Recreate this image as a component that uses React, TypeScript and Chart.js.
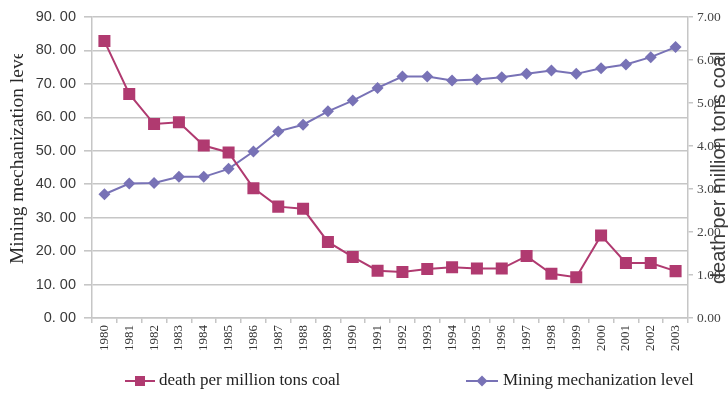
import React, { useEffect, useRef } from "react";
import { Chart, registerables } from "chart.js";

Chart.register(...registerables);

const years = [
  "1980", "1981", "1982", "1983", "1984", "1985", "1986", "1987",
  "1988", "1989", "1990", "1991", "1992", "1993", "1994", "1995",
  "1996", "1997", "1998", "1999", "2000", "2001", "2002", "2003",
];

// deaths per million tons of coal (right axis)
const deathRate = [
  6.44, 5.21, 4.51, 4.55, 4.01, 3.85, 3.02, 2.59, 2.54, 1.77, 1.42, 1.1,
  1.07, 1.14, 1.18, 1.15, 1.15, 1.44, 1.03, 0.95, 1.92, 1.28, 1.28, 1.09,
];

// mining mechanization level, % (left axis)
const mechanization = [
  37.0, 40.2, 40.4, 42.2, 42.2, 44.6, 49.8, 55.8, 57.8, 61.8, 65.0, 68.8,
  72.2, 72.2, 71.0, 71.3, 72.0, 73.0, 74.0, 73.0, 74.7, 75.8, 78.0, 81.0,
];

const leftTicks = { min: 0, max: 90, step: 10 };
const rightTicks = { min: 0, max: 7, step: 1 };

const deathLabel = "death per million tons coal";
const mechLabel = "Mining mechanization level";

const DEATH_COLOR = "rgb(176, 58, 112)";
const MECH_COLOR = "rgb(120, 114, 182)";
const GRID_COLOR = "#c6c6c6";

const decorPlugin = {
  id: "decor",
  afterDraw(chart: any) {
    const ctx = chart.ctx as CanvasRenderingContext2D;
    const area = chart.chartArea;

    // left axis title (cut off at the top of its box)
    ctx.save();
    ctx.beginPath();
    ctx.rect(0, 54, 60, 342);
    ctx.clip();
    ctx.translate(18, 264);
    ctx.rotate(-Math.PI / 2);
    ctx.font = "19.5px 'Liberation Serif'";
    ctx.fillStyle = "#2a2a2a";
    ctx.textAlign = "left";
    ctx.textBaseline = "middle";
    ctx.fillText(mechLabel, 0, 0);
    ctx.restore();

    // right axis title (cut off at the top of its box)
    ctx.save();
    ctx.beginPath();
    ctx.rect(area.right, 52, 60, 344);
    ctx.clip();
    ctx.translate(719, 284);
    ctx.rotate(-Math.PI / 2);
    ctx.font = "20px 'Liberation Sans'";
    ctx.fillStyle = "#3a3a3a";
    ctx.textAlign = "left";
    ctx.textBaseline = "middle";
    ctx.fillText(deathLabel, 0, 0);
    ctx.restore();

    // legend
    const ly = 381;
    ctx.save();
    ctx.lineWidth = 2;
    ctx.strokeStyle = DEATH_COLOR;
    ctx.beginPath();
    ctx.moveTo(125, ly);
    ctx.lineTo(155, ly);
    ctx.stroke();
    ctx.fillStyle = DEATH_COLOR;
    ctx.fillRect(140 - 5, ly - 5, 10, 10);

    ctx.strokeStyle = MECH_COLOR;
    ctx.beginPath();
    ctx.moveTo(466, ly);
    ctx.lineTo(498, ly);
    ctx.stroke();
    ctx.fillStyle = MECH_COLOR;
    ctx.beginPath();
    ctx.moveTo(482, ly - 5.5);
    ctx.lineTo(487.5, ly);
    ctx.lineTo(482, ly + 5.5);
    ctx.lineTo(476.5, ly);
    ctx.closePath();
    ctx.fill();

    ctx.font = "17px 'Liberation Serif'";
    ctx.fillStyle = "#222";
    ctx.textAlign = "left";
    ctx.textBaseline = "middle";
    ctx.fillText(deathLabel, 159, ly);
    ctx.fillText(mechLabel, 503, ly);
    ctx.restore();
  },
};

export default function App() {
  const canvasRef = useRef<HTMLCanvasElement | null>(null);

  useEffect(() => {
    if (!canvasRef.current) return;
    const chart = new Chart(canvasRef.current, {
      type: "line",
      data: {
        labels: years,
        datasets: [
          {
            label: deathLabel,
            data: deathRate,
            yAxisID: "y1",
            borderColor: DEATH_COLOR,
            backgroundColor: DEATH_COLOR,
            borderWidth: 2,
            pointStyle: "rect",
            pointRadius: 8.5,
            pointBorderWidth: 0,
            tension: 0,
            order: 0,
          },
          {
            label: mechLabel,
            data: mechanization,
            yAxisID: "y",
            borderColor: MECH_COLOR,
            backgroundColor: MECH_COLOR,
            borderWidth: 2,
            pointStyle: "rectRot",
            pointRadius: 6,
            pointBorderWidth: 0,
            tension: 0,
            order: 1,
          },
        ],
      },
      options: {
        animation: false,
        responsive: true,
        maintainAspectRatio: false,
        layout: { padding: { top: 17, left: 0, right: 0, bottom: 0 } },
        plugins: {
          legend: { display: false },
          tooltip: { enabled: false },
        },
        scales: {
          x: {
            type: "category",
            offset: true,
            grid: {
              offset: true,
              drawOnChartArea: false,
              drawTicks: true,
              tickLength: 5,
              color: GRID_COLOR,
              lineWidth: 1.5,
            },
            border: { color: GRID_COLOR, width: 1.5 },
            ticks: {
              minRotation: 90,
              maxRotation: 90,
              autoSkip: false,
              padding: 2,
              color: "#333",
              font: { family: "'Liberation Serif'", size: 13 },
            },
            afterFit: (s: any) => {
              s.height = 78;
            },
          },
          y: {
            position: "left",
            min: leftTicks.min,
            max: leftTicks.max,
            ticks: {
              stepSize: leftTicks.step,
              padding: 8,
              color: "#3a3a3a",
              font: { family: "'Liberation Sans'", size: 14.5 },
              callback: (v: any) => Number(v).toFixed(2).replace(".", ". "),
            },
            grid: { color: GRID_COLOR, lineWidth: 1.6, tickLength: 8 },
            border: { color: GRID_COLOR, width: 1.5 },
            afterFit: (s: any) => {
              s.width = 92;
            },
          },
          y1: {
            position: "right",
            min: rightTicks.min,
            max: rightTicks.max,
            ticks: {
              stepSize: rightTicks.step,
              padding: 4,
              color: "#444",
              font: { family: "'Liberation Serif'", size: 13.5 },
              callback: (v: any) => Number(v).toFixed(2),
            },
            grid: {
              drawOnChartArea: false,
              color: GRID_COLOR,
              lineWidth: 1.5,
              tickLength: 5,
            },
            border: { color: GRID_COLOR, width: 1.5 },
            afterFit: (s: any) => {
              s.width = 40;
            },
          },
        },
      },
      plugins: [decorPlugin],
    });
    return () => chart.destroy();
  }, []);

  return (
    <div
      style={{
        position: "absolute",
        left: 0,
        top: 0,
        width: 728,
        height: 396,
        background: "#fff",
      }}
    >
      <canvas ref={canvasRef} />
    </div>
  );
}
